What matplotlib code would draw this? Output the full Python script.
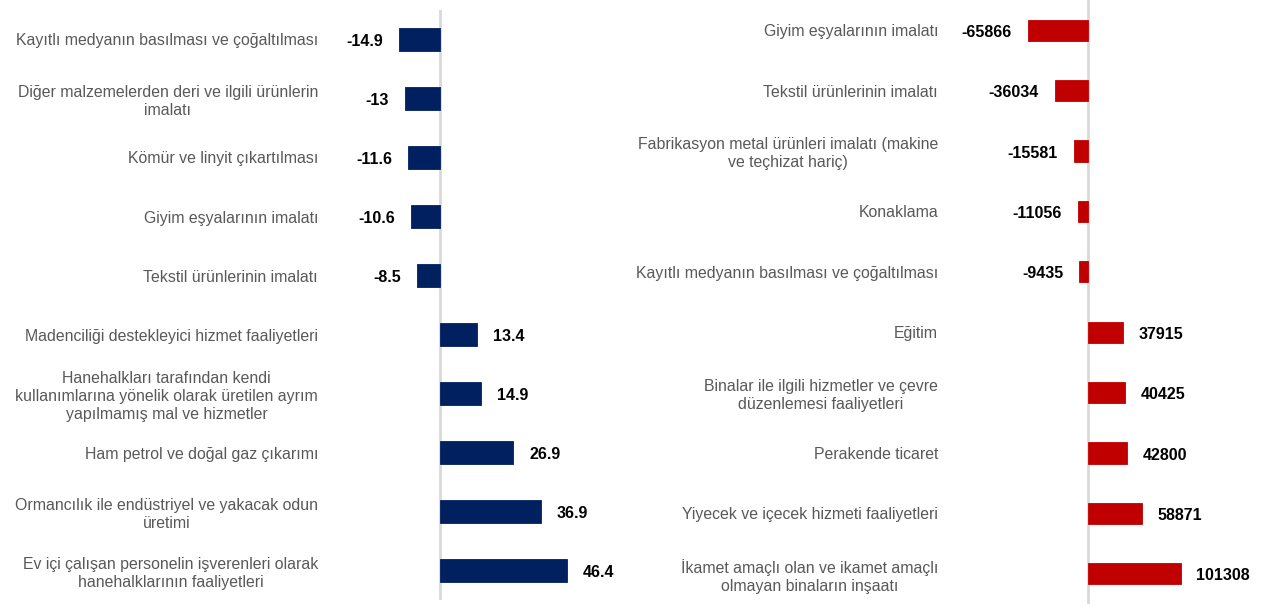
import matplotlib.pyplot as plt

plt.rcParams['font.family'] = ['Liberation Sans', 'DejaVu Sans']

# sol panel: değişim (%)
left_labels = [
    "Kayıtlı medyanın basılması ve çoğaltılması",
    "Diğer malzemelerden deri ve ilgili ürünlerin\nimalatı",
    "Kömür ve linyit çıkartılması",
    "Giyim eşyalarının imalatı",
    "Tekstil ürünlerinin imalatı",
    "Madenciliği destekleyici hizmet faaliyetleri",
    "Hanehalkları tarafından kendi\nkullanımlarına yönelik olarak üretilen ayrım\nyapılmamış mal ve hizmetler",
    "Ham petrol ve doğal gaz çıkarımı",
    "Ormancılık ile endüstriyel ve yakacak odun\nüretimi",
    "Ev içi çalışan personelin işverenleri olarak\nhanehalklarının faaliyetleri",
]
left_values = [-14.9, -13, -11.6, -10.6, -8.5, 13.4, 14.9, 26.9, 36.9, 46.4]
left_text = ["-14.9", "-13", "-11.6", "-10.6", "-8.5", "13.4", "14.9", "26.9", "36.9", "46.4"]

# sağ panel: değişim (kişi)
right_labels = [
    "Giyim eşyalarının imalatı",
    "Tekstil ürünlerinin imalatı",
    "Fabrikasyon metal ürünleri imalatı (makine\nve teçhizat hariç)",
    "Konaklama",
    "Kayıtlı medyanın basılması ve çoğaltılması",
    "Eğitim",
    "Binalar ile ilgili hizmetler ve çevre\ndüzenlemesi faaliyetleri",
    "Perakende ticaret",
    "Yiyecek ve içecek hizmeti faaliyetleri",
    "İkamet amaçlı olan ve ikamet amaçlı\nolmayan binaların inşaatı",
]
right_values = [-65866, -36034, -15581, -11056, -9435, 37915, 40425, 42800, 58871, 101308]

W, H = 1263, 607
fig = plt.figure(figsize=(W / 100, H / 100), dpi=100)


def panel(rect, labels, values, texts, color, xlim, bar_h):
    ax = fig.add_axes(rect)
    pos = list(range(len(values)))
    ax.barh(pos, values, height=bar_h, color=color, edgecolor=color, linewidth=0.6)
    ax.axvline(0, color='#d9d9d9', lw=2, zorder=0)
    ax.set_xlim(*xlim)
    ax.set_ylim(len(values) - 0.5, -0.5)
    ax.set_yticks(pos)
    ax.set_yticklabels(labels, fontsize=11.4, color='#595959', linespacing=1.25)
    for lab in ax.get_yticklabels():
        lab.set_multialignment('center')
    ax.tick_params(axis='y', length=0, pad=8.6)
    ax.set_xticks([])
    for s in ax.spines.values():
        s.set_visible(False)
    ax.patch.set_alpha(0)
    for p, v, t in zip(pos, values, texts):
        off = 11.5 if v > 0 else -11.5
        ax.annotate(t, (v, p), xytext=(off, -1.5), textcoords='offset points',
                    ha='left' if v > 0 else 'right', va='center',
                    fontsize=11.5, fontweight='bold', color='black')
    return ax


# sol: sıfır çizgisi x=440 px, 2.73 px/birim
lx0, lx1 = 330, 630
lscale = 2.73
panel([lx0 / W, 7 / H, (lx1 - lx0) / W, 590 / H], left_labels, left_values, left_text,
      '#002060', (-(440 - lx0) / lscale, (lx1 - 440) / lscale), 0.39)

# sağ: sıfır çizgisi x=1088 px, ~1095 kişi/px
rx0, rx1 = 950, 1263
rscale = 1095
panel([rx0 / W, 3 / H, (rx1 - rx0) / W, 604 / H], right_labels, right_values,
      [str(v) for v in right_values],
      '#c00000', (-(1088 - rx0) * rscale, (rx1 - 1088) * rscale), 0.35)

fig.savefig('out.png', dpi=100)
